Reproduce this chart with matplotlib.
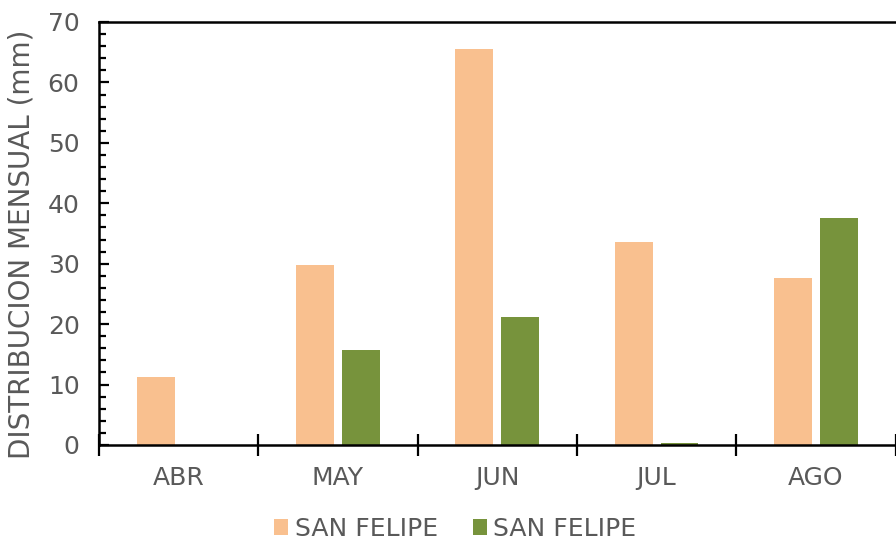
import matplotlib
matplotlib.use("Agg")
import matplotlib.pyplot as plt
from matplotlib.ticker import MultipleLocator
import numpy as np

months = ["ABR", "MAY", "JUN", "JUL", "AGO"]
series_a = [11.2, 29.8, 65.6, 33.6, 27.6]
series_b = [0.0, 15.7, 21.2, 0.4, 37.6]
series_labels = ["SAN FELIPE", "SAN FELIPE"]
colors = ["#F9C08F", "#77933C"]
yticks = [0, 10, 20, 30, 40, 50, 60, 70]

text_color = "#595959"
plt.rcParams["font.family"] = ["DejaVu Sans"]

fig = plt.figure(figsize=(8.96, 5.43), dpi=100)
ax = fig.add_axes([0.1105, 0.1805, 0.889, 0.779])

x = np.arange(len(months))
width = 0.2375
offset = 0.144
ax.bar(x - offset, series_a, width, color=colors[0], label=series_labels[0], zorder=2)
ax.bar(x + offset, series_b, width, color=colors[1], label=series_labels[1], zorder=2)

ax.set_xlim(-0.5, len(months) - 0.5)
ax.set_ylim(0, 70)
ax.set_yticks(yticks)
ax.yaxis.set_minor_locator(MultipleLocator(2))
ax.tick_params(axis="y", which="major", direction="in", length=7, width=1.6,
               labelsize=18, labelcolor=text_color, pad=14)
ax.tick_params(axis="y", which="minor", direction="in", length=5, width=1.6)

# category boundary ticks on the x axis
ax.set_xticks(np.arange(-0.5, len(months) + 0.5, 1.0))
ax.set_xticklabels([])
ax.set_xticks(x, minor=True)
ax.set_xticklabels(months, minor=True)
ax.tick_params(axis="x", which="major", direction="inout", length=16, width=1.6)
ax.tick_params(axis="x", which="minor", length=0, labelsize=18,
               labelcolor=text_color, pad=15)

for side in ["left", "bottom", "top"]:
    ax.spines[side].set_linewidth(1.8)
    ax.spines[side].set_color("black")
ax.spines["right"].set_visible(False)

ax.set_ylabel("DISTRIBUCION MENSUAL (mm)", fontsize=20, color=text_color)
ax.yaxis.set_label_coords(-0.080, 0.475)

fig.legend(loc="center", bbox_to_anchor=(0.508, 0.026), ncol=2, frameon=False,
           borderpad=0.1, fontsize=18, labelcolor=text_color,
           handlelength=0.56, handleheight=0.56,
           handletextpad=0.25, columnspacing=1.4)

fig.savefig("out.png", dpi=100)
